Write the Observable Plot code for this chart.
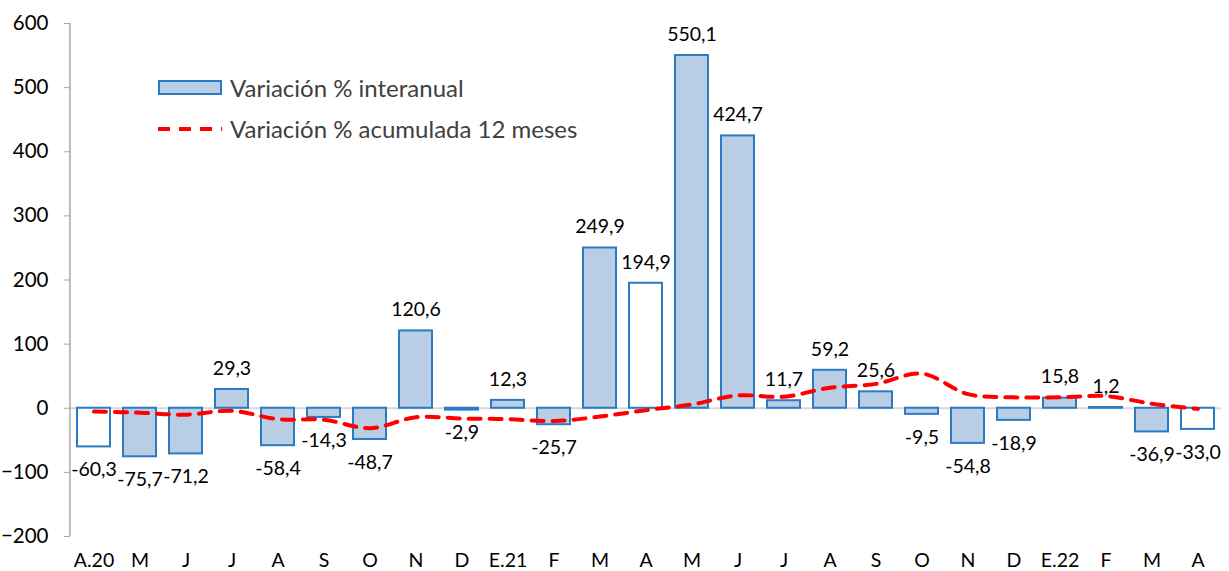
<!DOCTYPE html>
<html>
<head>
<meta charset="utf-8">
<script src="https://cdn.jsdelivr.net/npm/d3@7"></script>
<script src="https://cdn.jsdelivr.net/npm/@observablehq/plot@0.6"></script>
<style>
  body { margin: 0; background: #fff; }
  #wrap { position: relative; width: 1229px; height: 571px; font-family: Lato, "Open Sans", sans-serif; }
  .legend { position: absolute; left: 158px; font-size: 24px; color: #404040; display: flex; align-items: center; }
  .sw { width: 64px; height: 15px; margin-right: 8px; box-sizing: border-box; }
</style>
</head>
<body>
<div id="wrap">
  <div id="chart"></div>
  <div class="legend" style="top:73px"><div class="sw" style="background:#b9cde5;border:2px solid #2a7ac4"></div>Variación % interanual</div>
  <div class="legend" style="top:114px"><svg width="64" height="14" style="margin-right:8px"><line x1="0" x2="64" y1="7" y2="7" stroke="#ff0000" stroke-width="4" stroke-dasharray="12,9"/></svg>Variación % acumulada 12 meses</div>
</div>
<script>
// meses abril 2020 - abril 2022
const meses = ['A.20','M','J','J','A','S','O','N','D','E.21','F','M','A','M','J','J','A','S','O','N','D','E.22','F','M','A']
const interanual = [-60.3,-75.7,-71.2,29.3,-58.4,-14.3,-48.7,120.6,-2.9,12.3,-25.7,249.9,194.9,550.1,424.7,11.7,59.2,25.6,-9.5,-54.8,-18.9,15.8,1.2,-36.9,-33.0]
const acumulada = [-5,-7,-10,-4,-17,-18,-31,-14,-16,-17,-20,-13,-3,6,20,18,32,38,54,22,17,17,19,7,-1]
const blancos = [0, 12, 24] // barras de abril sin relleno

const data = meses.map((m, i) => ({i, m, v: interanual[i], a: acumulada[i], blanco: blancos.includes(i)}))
const fmt = v => v.toFixed(1).replace('.', ',')

const chart = Plot.plot({
  width: 1229,
  height: 571,
  marginLeft: 70,
  marginRight: 8,
  marginTop: 23,
  marginBottom: 35,
  style: {fontFamily: 'Lato, "Open Sans", sans-serif', fontSize: '19px', color: '#000', background: 'transparent', overflow: 'visible'},
  x: {domain: d3.range(meses.length), paddingInner: 0.28, paddingOuter: 0.14, label: null},
  y: {domain: [-200, 600], label: null},
  marks: [
    Plot.ruleY([0], {stroke: '#d9d9d9', strokeWidth: 2}),
    Plot.barY(data, {x: 'i', y: 'v', fill: d => d.blanco ? '#fff' : '#b9cde5', stroke: '#2a7ac4', strokeWidth: 2}),
    Plot.line(data, {x: 'i', y: 'a', stroke: '#ff0000', strokeWidth: 4, strokeDasharray: '12,9', curve: 'catmull-rom'}),
    Plot.text(data.filter(d => d.v >= 0), {x: 'i', y: 'v', text: d => fmt(d.v), dy: -21, fontSize: 19.5, fill: '#000'}),
    Plot.text(data.filter(d => d.v < 0), {x: 'i', y: 'v', text: d => fmt(d.v), dy: 23, fontSize: 19.5, fill: '#000'}),
    Plot.axisX({tickSize: 0, tickPadding: 17, tickFormat: i => meses[i], fontSize: 19.5, fill: '#000'}),
    Plot.axisY({ticks: d3.range(-200, 601, 100), tickSize: 6, stroke: '#a6a6a6', tickPadding: 16, fontSize: 20.5, fill: '#000'})
  ]
})
d3.select('#chart').append(() => chart)
// linea del eje vertical
d3.select(chart).append('line')
  .attr('x1', 70).attr('x2', 70).attr('y1', 23).attr('y2', 571 - 35)
  .attr('stroke', '#a6a6a6').attr('stroke-width', 1.5)
</script>
</body>
</html>
